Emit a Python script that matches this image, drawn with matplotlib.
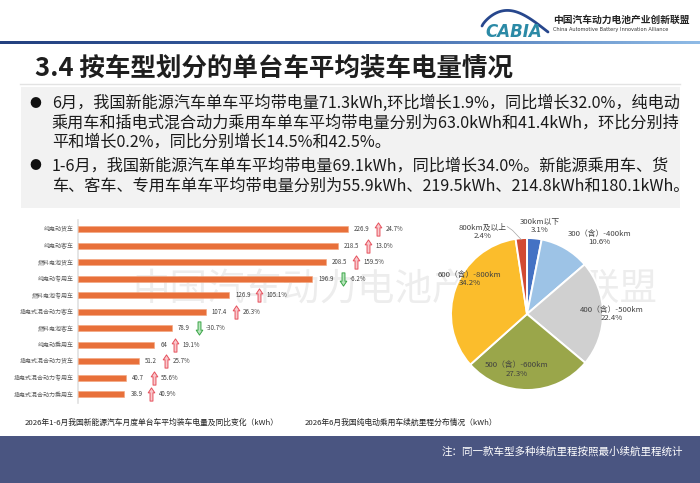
import numpy as np
import matplotlib
matplotlib.use("Agg")
import matplotlib.pyplot as plt
from matplotlib import patches, transforms
from matplotlib.path import Path
from matplotlib.colors import LinearSegmentedColormap

plt.rcParams['font.family'] = ['Noto Sans CJK SC', 'DejaVu Sans']

# ---------------- data ----------------
bar_categories = ['纯电动货车', '纯电动客车', '燃料电池货车', '纯电动专用车', '燃料电池专用车',
                  '插电式混合动力客车', '燃料电池客车', '纯电动乘用车', '插电式混合动力货车',
                  '插电式混合动力专用车', '插电式混合动力乘用车']
bar_values = [226.9, 218.5, 208.5, 196.9, 126.9, 107.4, 78.9, 64, 51.2, 40.7, 38.9]
bar_value_labels = ['226.9', '218.5', '208.5', '196.9', '126.9', '107.4', '78.9', '64', '51.2', '40.7', '38.9']
bar_yoy = [24.7, 13.0, 159.5, -6.2, 105.1, 26.3, -30.7, 19.1, 25.7, 55.6, 40.9]

pie_labels = ['300km以下', '300（含）-400km', '400（含）-500km', '500（含）-600km',
              '600（含）-800km', '800km及以上']
pie_values = [3.1, 10.6, 22.4, 27.3, 34.2, 2.4]
pie_colors = ['#4472c4', '#9dc3e6', '#d0d0d0', '#9aa64a', '#fbbd2c', '#d24a33']
# label placement (in pie radii, relative to the centre)
pie_label_pos = [(0.17, 1.16), (0.95, 1.00), (1.12, 0.0), (-0.14, -0.73), (-0.75, 0.46), (-0.59, 1.08)]

W, H = 700, 483
fig = plt.figure(figsize=(W / 100, H / 100), dpi=100)
fig.patch.set_facecolor('white')


def fx(x):
    return x / W


def fy(y):
    return 1 - y / H


# ---------------- header ----------------
grad_ax = fig.add_axes([0, fy(44), 1, 3 / H])
grad_ax.axis('off')
grad = np.linspace(0, 1, 256)[None, :]
cmap = LinearSegmentedColormap.from_list('hdr', ['#23407f', '#3c64a8', '#8fbbe6'])
grad_ax.imshow(grad, aspect='auto', cmap=cmap)

# logo
logo_ax = fig.add_axes([fx(478), fy(40), 75 / W, 34 / H])
logo_ax.set_xlim(0, 75)
logo_ax.set_ylim(0, 34)
logo_ax.axis('off')
t = np.linspace(0, 1, 60)
ax_x = 4 + 66 * t
ax_y = 14 + 18 * np.sin(np.pi * t ** 0.8) - 6 * t
logo_ax.plot(ax_x, ax_y, color='#27478d', lw=2.0, solid_capstyle='round')
logo_ax.text(36, 8, 'CABIA', fontsize=12, fontstyle='italic', fontweight='bold',
             color='#2b8aa6', ha='center', va='center', family='DejaVu Sans')
fig.text(fx(553), fy(20), '中国汽车动力电池产业创新联盟', fontsize=7, fontweight='bold',
         color='#222222', ha='left', va='center')
fig.text(fx(553), fy(29.5), 'China Automotive Battery Innovation Alliance', fontsize=3.6,
         color='#333333', ha='left', va='center', family='DejaVu Sans')

# title
fig.text(fx(35), fy(68), '3.4 按车型划分的单台车平均装车电量情况', fontsize=18.4,
         fontweight='bold', color='#1e1e1e', ha='left', va='center')
fig.add_artist(plt.Line2D([fx(20), fx(680)], [fy(84), fy(84)], color='#e3e3e3', lw=1))

# text box
fig.add_artist(patches.Rectangle((fx(21), fy(208)), fx(680) - fx(21), (208 - 87) / H,
                                 facecolor='#f2f2f2', edgecolor='none', zorder=0))
lines = [
    (103, True, '6月，我国新能源汽车单车平均带电量71.3kWh,环比增长1.9%，同比增长32.0%，纯电动'),
    (123, False, '乘用车和插电式混合动力乘用车单车平均带电量分别为63.0kWh和41.4kWh，环比分别持'),
    (142, False, '平和增长0.2%，同比分别增长14.5%和42.5%。'),
    (166, True, '1-6月，我国新能源汽车单车平均带电量69.1kWh，同比增长34.0%。新能源乘用车、货'),
    (186, False, '车、客车、专用车单车平均带电量分别为55.9kWh、219.5kWh、214.8kWh和180.1kWh。'),
]
for y, bullet, s in lines:
    if bullet:
        fig.text(fx(35), fy(y), '●', fontsize=8.5, color='#111111', ha='center', va='center')
    fig.text(fx(52), fy(y), s, fontsize=11.6, color='#1a1a1a', ha='left', va='center')

# watermark
fig.text(fx(395), fy(290), '中国汽车动力电池产业创新联盟', fontsize=27, color='#000000',
         alpha=0.07, ha='center', va='center', zorder=-1)

# ---------------- bar chart ----------------
px_per_unit = 1.19
x_max = 300
ax = fig.add_axes([fx(78), fy(403), x_max * px_per_unit / W, (403 - 220) / H])
ax.set_facecolor('none')
n = len(bar_values)
ypos = np.arange(n)
ax.barh(ypos, bar_values, height=0.38, color='#e8703a', edgecolor='#f3a57c', linewidth=0.4, zorder=3)
ax.set_xlim(0, x_max)
ax.set_ylim(n - 1 + 8.7 / 16.5, -9.3 / 16.5)
ax.set_yticks(ypos)
ax.set_yticklabels(bar_categories, fontsize=4.3, color='#595959')
ax.tick_params(axis='y', length=0, pad=3)
ax.set_xticks([])
for s in ['top', 'right', 'bottom']:
    ax.spines[s].set_visible(False)
ax.spines['left'].set_color('#e0e0e0')
ax.spines['left'].set_linewidth(1.2)

up_path = Path([(-0.22, -1), (0.22, -1), (0.22, 0.25), (0.5, 0.25), (0, 1), (-0.5, 0.25),
                (-0.22, 0.25), (-0.22, -1)],
               [Path.MOVETO] + [Path.LINETO] * 6 + [Path.CLOSEPOLY])
down_path = Path([(x, -y) for x, y in up_path.vertices], up_path.codes)

for i, (v, lab, pct) in enumerate(zip(bar_values, bar_value_labels, bar_yoy)):
    tw = 3.05 * len(lab)
    tr_val = transforms.offset_copy(ax.transData, fig=fig, x=6, y=0, units='dots')
    ax.text(v, i, lab, fontsize=4.4, color='#404040', ha='left', va='center', transform=tr_val)
    tr_arr = transforms.offset_copy(ax.transData, fig=fig, x=6 + tw + 9, y=0, units='dots')
    if pct >= 0:
        ax.plot([v], [i], marker=up_path, markersize=9.5, mfc='#f9c9cd', mec='#e6505c',
                mew=0.7, transform=tr_arr, clip_on=False, zorder=4)
    else:
        ax.plot([v], [i], marker=down_path, markersize=9.5, mfc='#b9e5bd', mec='#3aa547',
                mew=0.7, transform=tr_arr, clip_on=False, zorder=4)
    tr_pct = transforms.offset_copy(ax.transData, fig=fig, x=6 + tw + 16, y=0, units='dots')
    ax.text(v, i, f'{pct:.1f}%', fontsize=4.4, color='#404040', ha='left', va='center',
            transform=tr_pct)

fig.text(fx(25), fy(423), '2026年1-6月我国新能源汽车月度单台车平均装车电量及同比变化（kWh）',
         fontsize=5.6, color='#222222', ha='left', va='center')

# ---------------- pie ----------------
R = 76
cx, cy = 527, 314
half = 110
pax = fig.add_axes([fx(cx - half), fy(cy + half), 2 * half / W, 2 * half / H])
pax.set_facecolor('none')
wedges, _ = pax.pie(pie_values, colors=pie_colors, startangle=90, counterclock=False,
                    radius=1, wedgeprops=dict(edgecolor='white', linewidth=1.4))
pax.set_xlim(-half / R, half / R)
pax.set_ylim(-half / R, half / R)
pax.set_aspect('equal')
pax.axis('off')
for w, lab, v, (lx, ly) in zip(wedges, pie_labels, pie_values, pie_label_pos):
    pax.text(lx, ly, f'{lab}\n{v:.1f}%', fontsize=5.6, color='#404040', ha='center',
             va='center', linespacing=1.05)
# leader line for the smallest slice
w = wedges[-1]
ang = np.deg2rad((w.theta1 + w.theta2) / 2)
lx, ly = pie_label_pos[-1]
pax.plot([np.cos(ang) * 0.98, lx + 0.4, lx + 0.33], [np.sin(ang) * 0.98, ly + 0.02, ly + 0.07],
         color='#a6a6a6', lw=0.5)

fig.text(fx(305), fy(423), '2026年6月我国纯电动乘用车续航里程分布情况（kWh）',
         fontsize=5.6, color='#222222', ha='left', va='center')

# ---------------- bottom band ----------------
fig.add_artist(patches.Rectangle((0, 0), 1, fy(436), facecolor='#4a5581', edgecolor='none', zorder=0))
fig.text(fx(683), fy(451), '注：同一款车型多种续航里程按照最小续航里程统计', fontsize=7.6,
         color='white', ha='right', va='center')

fig.savefig('out.png', dpi=100, facecolor='white')
